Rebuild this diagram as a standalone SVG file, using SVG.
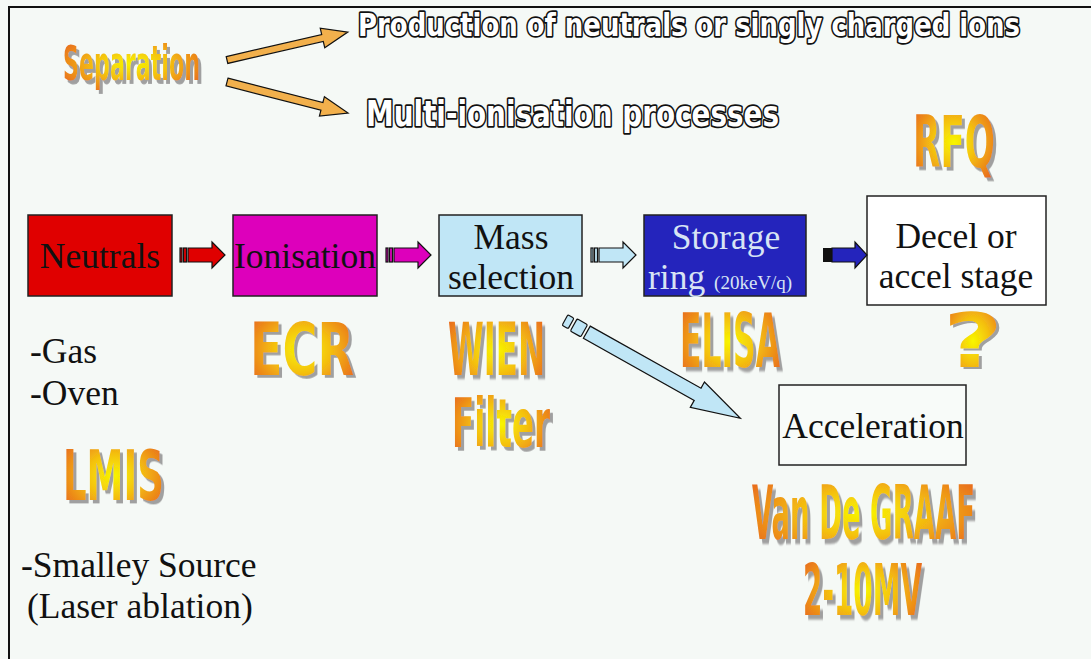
<svg xmlns="http://www.w3.org/2000/svg" width="1091" height="659" viewBox="0 0 1091 659">
  <defs>
    <radialGradient id="hot" cx="0.5" cy="0.5" r="0.6">
      <stop offset="0" stop-color="#f8f600"/>
      <stop offset="0.45" stop-color="#f4c010"/>
      <stop offset="1" stop-color="#e86a1e"/>
    </radialGradient>
    <filter id="drop" x="-10%" y="-10%" width="130%" height="130%">
      <feDropShadow dx="3" dy="2" stdDeviation="0.4" flood-color="#a0a0a0" flood-opacity="1"/>
    </filter>
    <style>
      .bg { fill: #f5f9f6; }
      .frame { stroke: #111; stroke-width: 2; fill: none; }
      .box { stroke: #222; stroke-width: 1.5; }
      .lbl { font-family: "Liberation Serif", "Times New Roman", serif; font-size: 35.5px; fill: #111; }
      .mid { text-anchor: middle; }
      .big { font-family: "DejaVu Sans Condensed", "DejaVu Sans", sans-serif; font-weight: bold; fill: url(#hot); filter: url(#drop); }
      .outl { font-family: "DejaVu Sans Condensed", "DejaVu Sans", sans-serif; font-weight: bold; fill: #fff; stroke: #111; stroke-width: 3; paint-order: stroke; stroke-linejoin: round; }
      .blk { stroke: #111; stroke-width: 1.2; stroke-linejoin: miter; }
    </style>
  </defs>

  <rect class="bg" x="0" y="0" width="1091" height="659"/>
  <path class="frame" d="M9 659 V7 H1091"/>

  <!-- headline: separation and its two outcomes -->
  <g id="separation">
    <text class="big" transform="translate(63,80) scale(1,1.95)" font-size="24.6" textLength="137" lengthAdjust="spacingAndGlyphs">Separation</text>
  </g>
  <g id="production">
    <text class="outl" transform="translate(358,36) scale(1,1.15)" font-size="28" textLength="662" lengthAdjust="spacingAndGlyphs">Production of neutrals or singly charged ions</text>
  </g>
  <g id="multi-ionisation">
    <text class="outl" transform="translate(366,126) scale(1,1.15)" font-size="31" textLength="413" lengthAdjust="spacingAndGlyphs">Multi-ionisation processes</text>
  </g>

  <!-- process chain -->
  <g id="neutrals">
    <rect class="box" x="28" y="215" width="144" height="81" fill="#e00000"/>
    <text class="lbl mid" x="100" y="268">Neutrals</text>
  </g>
  <g id="ionisation">
    <rect class="box" x="233" y="215" width="144" height="81" fill="#dd00bb"/>
    <text class="lbl mid" x="305" y="268">Ionisation</text>
  </g>
  <g id="mass-selection">
    <rect class="box" x="439" y="215" width="143" height="81" fill="#c0e6f6"/>
    <text class="lbl mid" x="511" y="249">Mass</text>
    <text class="lbl mid" x="511" y="289">selection</text>
  </g>
  <g id="storage-ring">
    <rect class="box" x="644" y="215" width="162" height="81" fill="#2424bc"/>
    <text class="lbl mid" x="726" y="249" style="fill:#d8e4f4">Storage</text>
    <text class="lbl" x="648" y="289" style="fill:#d8e4f4">ring <tspan font-size="19">(20keV/q)</tspan></text>
  </g>
  <g id="decel-stage">
    <rect class="box" x="867" y="196" width="179" height="109" fill="#ffffff"/>
    <text class="lbl mid" x="956" y="248">Decel or</text>
    <text class="lbl mid" x="956" y="288">accel stage</text>
  </g>
  <g id="acceleration">
    <rect class="box" x="779" y="385" width="187" height="80" fill="#f8fbf9"/>
    <text class="lbl mid" x="873" y="438">Acceleration</text>
  </g>

  <!-- source notes -->
  <g id="sources">
    <text class="lbl" x="30" y="363">-Gas</text>
    <text class="lbl" x="30" y="405">-Oven</text>
    <text class="lbl" x="21" y="577">-Smalley Source</text>
    <text class="lbl" x="27" y="618">(Laser ablation)</text>
  </g>

  <!-- device names -->
  <g id="lmis">
    <text class="big" transform="translate(63,500) scale(1,1.7)" font-size="41" textLength="101" lengthAdjust="spacingAndGlyphs">LMIS</text>
  </g>
  <g id="ecr">
    <text class="big" transform="translate(250,375) scale(1,1.38)" font-size="52.8" textLength="104" lengthAdjust="spacingAndGlyphs">ECR</text>
  </g>
  <g id="wien-filter">
    <text class="big" transform="translate(448,375) scale(1,2.02)" font-size="36" textLength="97" lengthAdjust="spacingAndGlyphs">WIEN</text>
    <text class="big" transform="translate(452,447) scale(1,1.86)" font-size="36" textLength="98" lengthAdjust="spacingAndGlyphs">Filter</text>
  </g>
  <g id="elisa">
    <text class="big" transform="translate(680,367) scale(1,2.12)" font-size="35" textLength="100" lengthAdjust="spacingAndGlyphs">ELISA</text>
  </g>
  <g id="rfq">
    <text class="big" transform="translate(913,167) scale(1,1.8)" font-size="39.6" textLength="82" lengthAdjust="spacingAndGlyphs">RFQ</text>
  </g>
  <g id="unknown">
    <text class="big" x="943" y="367" font-size="74" textLength="60" lengthAdjust="spacingAndGlyphs">?</text>
  </g>
  <g id="van-de-graaf">
    <text class="big" transform="translate(752,539) scale(1,2.5)" font-size="30" textLength="223" lengthAdjust="spacingAndGlyphs">Van De GRAAF</text>
    <text class="big" transform="translate(803,615) scale(1,2.3)" font-size="31" textLength="119" lengthAdjust="spacingAndGlyphs">2-10MV</text>
  </g>

  <!-- connectors -->
  <g id="connectors">
    <!-- striped block arrows between stages -->
    <g transform="translate(180,255)" fill="#e00000">
      <rect class="blk" x="0" y="-7" width="2" height="14"/>
      <rect class="blk" x="3.5" y="-7" width="3" height="14"/>
      <path class="blk" d="M8 -7 H32 V-13 L45 0 L32 13 V7 H8 Z"/>
    </g>
    <g transform="translate(386,255)" fill="#dd00bb">
      <rect class="blk" x="0" y="-7" width="2" height="14"/>
      <rect class="blk" x="3.5" y="-7" width="3" height="14"/>
      <path class="blk" d="M8 -7 H32 V-13 L45 0 L32 13 V7 H8 Z"/>
    </g>
    <g transform="translate(591,255)" fill="#c0e6f6">
      <rect class="blk" x="0" y="-7" width="2" height="14"/>
      <rect class="blk" x="3.5" y="-7" width="3" height="14"/>
      <path class="blk" d="M8 -7 H32 V-13 L45 0 L32 13 V7 H8 Z"/>
    </g>
    <g transform="translate(823,255)" fill="#2424bc">
      <rect x="0" y="-7" width="9" height="14" fill="#111"/>
      <path class="blk" d="M9 -7 H32 V-13 L44 0 L32 13 V7 H9 Z"/>
    </g>

    <!-- mass selection towards acceleration -->
    <g transform="translate(565,320) rotate(29.25)" fill="#c0e6f6">
      <rect class="blk" x="0" y="-6" width="7" height="12" rx="1.5"/>
      <rect class="blk" x="10" y="-7" width="12" height="14" rx="1.5"/>
      <path class="blk" d="M25 -7 H152 V-14 L201 0 L152 15 V7 H25 Z"/>
    </g>

    <!-- separation outcomes -->
    <g transform="translate(227,60) rotate(-13)" fill="#f2b04c">
      <path class="blk" d="M0 -3.5 H98 V-10 L124 0 L98 10 V3.5 H0 Z"/>
    </g>
    <g transform="translate(227,82) rotate(14.4)" fill="#f2b04c">
      <path class="blk" d="M0 -4 H98 V-10 L125 0 L98 10 V4 H0 Z"/>
    </g>
  </g>
</svg>
